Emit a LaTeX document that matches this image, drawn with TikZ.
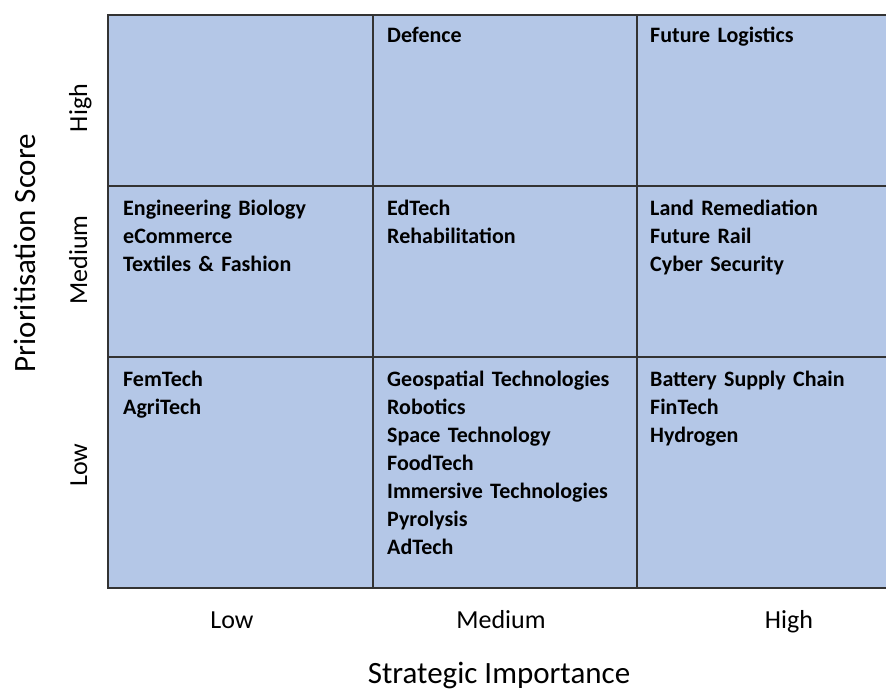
\documentclass[tikz,border=0pt]{standalone}
\usepackage{fontspec}
\setmainfont{Carlito}
\usetikzlibrary{calc,positioning}
\definecolor{cellblue}{HTML}{B4C7E7}
\definecolor{gridline}{HTML}{333333}
\tikzset{
    cell/.style = {draw=gridline, fill=cellblue, line width=1.5pt,
        rectangle, anchor=north west, inner sep=0pt},
    items/.style = {anchor=base west, text width=240pt, align=left,
        inner sep=0pt, font=\fontsize{22}{28}\selectfont\bfseries},
    level/.style = {anchor=base, inner sep=0pt,
        font=\fontsize{26}{30}\selectfont},
    axis/.style = {anchor=base, inner sep=0pt,
        font=\fontsize{31}{36}\selectfont}
}

\begin{document}
\begin{tikzpicture}[x=1pt, y=-1pt]
    \useasboundingbox (0,0) rectangle (886,688);
    % cells: first letter = importance, second = score
    \node [cell, minimum width=265pt, minimum height=171pt] (lh) at (107,14) {};
    \node [cell, minimum width=264pt, minimum height=171pt] (mh) at (372,14) {};
    \node [cell, minimum width=252pt, minimum height=171pt] (hh) at (636,14) {};
    \node [cell, minimum width=265pt, minimum height=171pt] (lm) at (107,185) {};
    \node [cell, minimum width=264pt, minimum height=171pt] (mm) at (372,185) {};
    \node [cell, minimum width=252pt, minimum height=171pt] (hm) at (636,185) {};
    \node [cell, minimum width=265pt, minimum height=231pt] (ll) at (107,356) {};
    \node [cell, minimum width=264pt, minimum height=231pt] (ml) at (372,356) {};
    \node [cell, minimum width=252pt, minimum height=231pt] (hl) at (636,356) {};

    % sectors in each cell, first baseline ~28pt below the cell top
    \node [items] (mhlist) at ($(mh.north west)+(15,28)$) {Defence};
    \node [items] (hhlist) at ($(hh.north west)+(14,28)$) {Future Logistics};
    \node [items] (lmlist) at ($(lm.north west)+(16,30)$) {Engineering Biology\\eCommerce\\Textiles \& Fashion};
    \node [items] (mmlist) at ($(mm.north west)+(15,30)$) {EdTech\\Rehabilitation};
    \node [items] (hmlist) at ($(hm.north west)+(14,30)$) {Land Remediation\\Future Rail\\Cyber Security};
    \node [items] (lllist) at ($(ll.north west)+(16,30)$) {FemTech\\AgriTech};
    \node [items] (mllist) at ($(ml.north west)+(15,30)$) {Geospatial Technologies\\Robotics\\Space Technology\\FoodTech\\Immersive Technologies\\Pyrolysis\\AdTech};
    \node [items] (hllist) at ($(hl.north west)+(14,30)$) {Battery Supply Chain\\FinTech\\Hydrogen};

    % axis levels
    \node [level] (xlow) at (232,628) {Low};
    \node [level] (xmed) at (501,628) {Medium};
    \node [level] (xhigh) at (789,628) {High};
    \node [level, rotate=90] (yhigh) at (87,108) {High};
    \node [level, rotate=90] (ymed) at (87,260) {Medium};
    \node [level, rotate=90] (ylow) at (87,465) {Low};

    % axis titles
    \node [axis] (xtitle) at (499,683) {Strategic Importance};
    \node [axis, rotate=90] (ytitle) at (35,253) {Prioritisation Score};
\end{tikzpicture}
\end{document}
